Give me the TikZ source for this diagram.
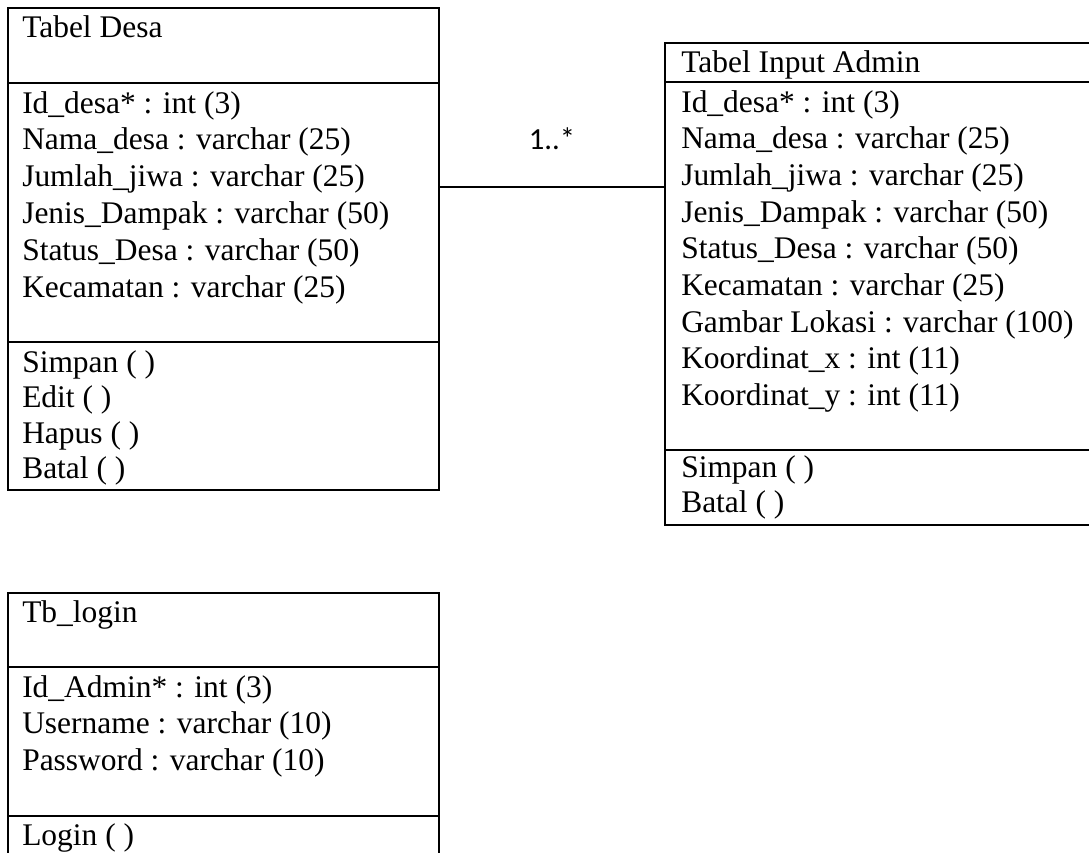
\documentclass[tikz,border=0pt]{standalone}
\usepackage{fontspec}
\setmainfont{Liberation Serif}
\newfontfamily\calibfont{Carlito}
\begin{document}
\begin{tikzpicture}[x=0.75pt,y=-0.75pt,
  classbox/.style={draw, line width=1.9pt, rectangle, inner sep=0pt, outer sep=0pt},
  rowtxt/.style={anchor=base west, inner sep=0pt, font=\fontsize{23.6}{28}\selectfont},
  divider/.style={line width=1.9pt},
  conn/.style={line width=1.4pt},
  mult/.style={anchor=base, inner sep=0pt, font=\calibfont\fontsize{23}{27}\selectfont}]
\useasboundingbox (0,0) rectangle (1089,853);
\clip (0,0) rectangle (1089,853);
\fill[white] (0,0) rectangle (1089,853);

% boxes
\node[classbox, minimum width=323.25pt, minimum height=361.5pt] (desa) at (223.5,249) {};
\node[classbox, minimum width=326.25pt, minimum height=361.5pt] (admin) at (882.5,284) {};
\node[classbox, minimum width=323.25pt, minimum height=215.25pt] (login) at (223.5,736.5) {};

% dividers
\draw[divider] (desa.west |- 0,83) -- (desa.east |- 0,83);
\draw[divider] (desa.west |- 0,342) -- (desa.east |- 0,342);
\draw[divider] (admin.west |- 0,82) -- (admin.east |- 0,82);
\draw[divider] (admin.west |- 0,450) -- (admin.east |- 0,450);
\draw[divider] (login.west |- 0,667) -- (login.east |- 0,667);
\draw[divider] (login.west |- 0,816) -- (login.east |- 0,816);

% Tabel Desa
\node[rowtxt] (dt) at (22,37) {Tabel Desa};
\foreach \t [count=\i] in {{Id\_desa* : int (3)},{Nama\_desa : varchar (25)},{Jumlah\_jiwa : varchar (25)},{Jenis\_Dampak : varchar (50)},{Status\_Desa : varchar (50)},{Kecamatan : varchar (25)}}
  \node[rowtxt] (da\i) at (22,{113+(\i-1)*36.8}) {\t};
\foreach \t [count=\i] in {{Simpan ( )},{Edit ( )},{Hapus ( )},{Batal ( )}}
  \node[rowtxt] (dm\i) at (22,{372+(\i-1)*35.5}) {\t};

% Tabel Input Admin
\node[rowtxt] (at) at (681,72) {Tabel Input Admin};
\foreach \t [count=\i] in {{Id\_desa* : int (3)},{Nama\_desa : varchar (25)},{Jumlah\_jiwa : varchar (25)},{Jenis\_Dampak : varchar (50)},{Status\_Desa : varchar (50)},{Kecamatan : varchar (25)},{Gambar Lokasi : varchar (100)},{Koordinat\_x : int (11)},{Koordinat\_y : int (11)}}
  \node[rowtxt] (aa\i) at (681,{112+(\i-1)*36.7}) {\t};
\foreach \t [count=\i] in {{Simpan ( )},{Batal ( )}}
  \node[rowtxt] (am\i) at (681,{477+(\i-1)*35}) {\t};

% Tb_login
\node[rowtxt] (lt) at (22,622) {Tb\_login};
\foreach \t [count=\i] in {{Id\_Admin* : int (3)},{Username : varchar (10)},{Password : varchar (10)}}
  \node[rowtxt] (la\i) at (22,{697+(\i-1)*36.5}) {\t};
\node[rowtxt] (lm1) at (22,845) {Login ( )};

% connector
\draw[conn] (desa.east |- 0,187) -- (admin.west |- 0,187);
\node[mult] (m1) at (552,149) {1..*};
\end{tikzpicture}
\end{document}
